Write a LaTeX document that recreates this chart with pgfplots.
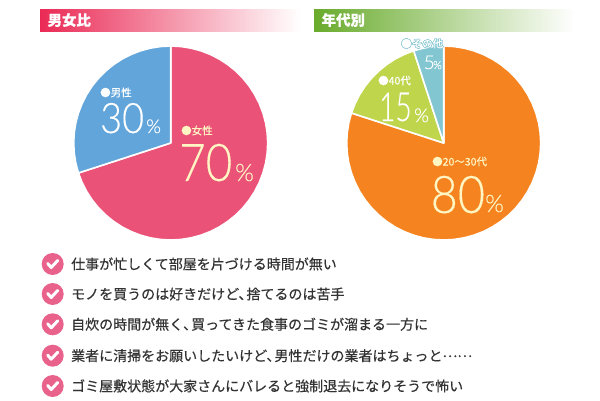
\documentclass[border=0pt]{standalone}
\usepackage{fontspec}
\usepackage{pgfplots}
\pgfplotsset{compat=1.18}
\setmainfont{Noto Sans CJK JP}[FakeBold=0.4]
\newfontfamily\numfont{Lato Light}[FakeBold=0.25]
\definecolor{pinkpie}{HTML}{EA5278}
\definecolor{bluepie}{HTML}{62A5DB}
\definecolor{orangepie}{HTML}{F58420}
\definecolor{greenpie}{HTML}{BFD54C}
\definecolor{tealpie}{HTML}{82C6D2}
\definecolor{cream}{HTML}{FFF6C4}
\definecolor{chkpink}{HTML}{E8628C}
\definecolor{txt}{HTML}{333333}
\definecolor{barred}{HTML}{EA2A55}
\definecolor{bargreen}{HTML}{69AB2C}
\pgfdeclareplotmark{chk}{%
  \pgfsetfillcolor{chkpink}\pgfpathcircle{\pgfpointorigin}{11pt}\pgfusepathqfill
  \pgfsetstrokecolor{white}\pgfsetlinewidth{3pt}\pgfsetroundcap\pgfsetroundjoin
  \pgfpathmoveto{\pgfpoint{-5pt}{0.5pt}}\pgfpathlineto{\pgfpoint{-1.5pt}{-3.5pt}}\pgfpathlineto{\pgfpoint{5pt}{3.5pt}}\pgfusepathqstroke}
\newcommand\ten{、\hspace{-6pt}}
\newcommand\lbl[4]{\node[anchor=base west,inner sep=0pt,text=#3,font=\fontsize{#4}{#4}\selectfont] at (axis cs:#1,#2)}
\begin{document}
\begin{tikzpicture}
\useasboundingbox (0,0) rectangle (600pt,400pt);
\pgfplotsset{pie/.style={axis lines=none,scale only axis,width=200pt,height=200pt,xmin=-100,xmax=100,ymin=-100,ymax=100,anchor=center,clip=false},
  wedge/.style={data cs=polar,draw=white,line width=1.6pt,line join=round}}
% gender split
\begin{axis}[pie,at={(170.7pt,257pt)}]
\addplot[wedge,fill=pinkpie] coordinates {(0,0)(90,97)(84,97)(78,97)(72,97)(66,97)(60,97)(54,97)(48,97)(42,97)(36,97)(30,97)(24,97)(18,97)(12,97)(6,97)(0,97)(-6,97)(-12,97)(-18,97)(-24,97)(-30,97)(-36,97)(-42,97)(-48,97)(-54,97)(-60,97)(-66,97)(-72,97)(-78,97)(-84,97)(-90,97)(-96,97)(-102,97)(-108,97)(-114,97)(-120,97)(-126,97)(-132,97)(-138,97)(-144,97)(-150,97)(-156,97)(-162,97)} -- cycle;
\addplot[wedge,fill=bluepie] coordinates {(0,0)(90,97)(96,97)(102,97)(108,97)(114,97)(120,97)(126,97)(132,97)(138,97)(144,97)(150,97)(156,97)(162,97)(168,97)(174,97)(180,97)(186,97)(192,97)(198,97)} -- cycle;
\end{axis}
% age split
\begin{axis}[pie,at={(443.7pt,257pt)}]
\addplot[wedge,fill=orangepie] coordinates {(0,0)(90,97)(84,97)(78,97)(72,97)(66,97)(60,97)(54,97)(48,97)(42,97)(36,97)(30,97)(24,97)(18,97)(12,97)(6,97)(0,97)(-6,97)(-12,97)(-18,97)(-24,97)(-30,97)(-36,97)(-42,97)(-48,97)(-54,97)(-60,97)(-66,97)(-72,97)(-78,97)(-84,97)(-90,97)(-96,97)(-102,97)(-108,97)(-114,97)(-120,97)(-126,97)(-132,97)(-138,97)(-144,97)(-150,97)(-156,97)(-162,97)(-168,97)(-174,97)(-180,97)(-186,97)(-192,97)(-198,97)} -- cycle;
\addplot[wedge,fill=greenpie] coordinates {(0,0)(108,97)(114,97)(120,97)(126,97)(132,97)(138,97)(144,97)(150,97)(156,97)(162,97)} -- cycle;
\addplot[wedge,fill=tealpie] coordinates {(0,0)(90,97)(96,97)(102,97)(108,97)} -- cycle;
\end{axis}
% everything else, in pixels of the reference
\begin{axis}[at={(0,0)},anchor=south west,axis lines=none,scale only axis,width=600pt,height=400pt,
  xmin=0,xmax=600,ymin=0,ymax=400,y dir=reverse,clip=false]
\shade[left color=barred,right color=white,shading angle=90] (axis cs:40,9) rectangle (axis cs:300,31);
\shade[left color=bargreen,right color=white,shading angle=90] (axis cs:314,9) rectangle (axis cs:575,31);
\lbl{47.5}{25.5}{white}{14.4} {\bfseries 男女比};
\lbl{321.5}{25.5}{white}{14.4} {\bfseries 年代別};
% checks
\addplot[only marks,mark=chk] coordinates {(52.7,264)(52.7,294)(52.7,324.3)(52.7,355.7)(52.7,386)};
\lbl{71}{269.3}{txt}{14} {仕事が忙しくて部屋を片づける時間が無い};
\lbl{71}{299.3}{txt}{14} {モノを買うのは好きだけど\ten 捨てるのは苦手};
\lbl{71}{329.6}{txt}{14} {自炊の時間が無く\ten 買ってきた食事のゴミが溜まる一方に};
\lbl{71}{361}{txt}{14} {業者に清掃をお願いしたいけど\ten 男性だけの業者はちょっと\raisebox{4pt}{……}};
\lbl{71}{391.3}{txt}{14} {ゴミ屋敷状態が大家さんにバレると強制退去になりそうで怖い};
% pie labels
\lbl{100}{96.5}{white}{10.5} {●男性};
\lbl{100}{133}{white}{42} {\numfont\scalebox{.9}[1]{30}};
\lbl{146}{133}{white}{19} {\numfont\%};
\lbl{181}{134.5}{cream}{10.5} {●女性};
\lbl{179}{181}{cream}{52} {\numfont\scalebox{.88}[1]{70}};
\lbl{235}{181}{cream}{24} {\numfont\%};
\lbl{432}{165.5}{cream}{10.5} {●20〜30代};
\lbl{430.5}{213}{cream}{52} {\numfont\scalebox{.9}[1]{80}};
\lbl{485}{212}{cream}{24} {\numfont\%};
\lbl{378}{84.5}{white}{10.5} {●40代};
\lbl{379}{121}{white}{40} {\numfont\scalebox{.7}[1]{15}};
\lbl{414}{122}{white}{19} {\numfont\%};
\foreach \dx/\dy in {-.6/0,.6/0,0/-.6,0/.6,-.45/-.45,.45/.45,-.45/.45,.45/-.45}{
  \edef\tmp{\noexpand\lbl{\dx+401}{\dy+47.5}{tealpie}{10.5} {●その他};}\tmp}
\lbl{401}{47.5}{white}{10.5} {●その他};
\lbl{423.5}{69}{white}{19} {\numfont 5};
\lbl{433}{69}{white}{11} {\numfont\%};
\end{axis}
\end{tikzpicture}
\end{document}
